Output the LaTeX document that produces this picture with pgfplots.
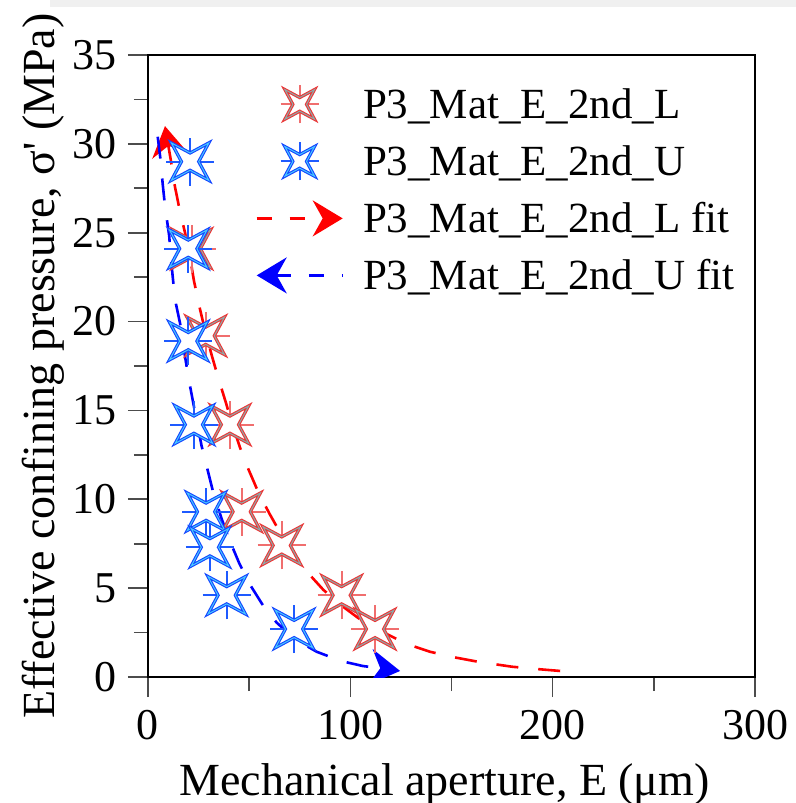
\documentclass[border=0pt]{standalone}
\usepackage{pgfplots}
\pgfplotsset{compat=1.18}
\usepackage{fontspec}
\setmainfont{Liberation Serif}
\usetikzlibrary{arrows.meta}
\definecolor{Lout}{RGB}{235,55,55}
\definecolor{Lin}{RGB}{140,170,170}
\definecolor{Lplus}{RGB}{240,110,110}
\definecolor{Uout}{RGB}{20,70,255}
\definecolor{Uin}{RGB}{70,200,255}
\definecolor{Uplus}{RGB}{30,90,255}
\def\starpath{%
  \pgfpathmoveto{\pgfpoint{0.78\pgfplotmarksize}{0.78\pgfplotmarksize}}%
  \pgfpathlineto{\pgfpoint{0pt}{0.36\pgfplotmarksize}}%
  \pgfpathlineto{\pgfpoint{-0.78\pgfplotmarksize}{0.78\pgfplotmarksize}}%
  \pgfpathlineto{\pgfpoint{-0.36\pgfplotmarksize}{0pt}}%
  \pgfpathlineto{\pgfpoint{-0.78\pgfplotmarksize}{-0.78\pgfplotmarksize}}%
  \pgfpathlineto{\pgfpoint{0pt}{-0.36\pgfplotmarksize}}%
  \pgfpathlineto{\pgfpoint{0.78\pgfplotmarksize}{-0.78\pgfplotmarksize}}%
  \pgfpathlineto{\pgfpoint{0.36\pgfplotmarksize}{0pt}}%
  \pgfpathclose}
\def\starmark#1#2#3{%
  \pgfsetdash{}{0pt}%
  \pgfsetlinewidth{1pt}%
  \pgfsetstrokecolor{#1}%
  \pgfpathmoveto{\pgfpoint{-\pgfplotmarksize}{0pt}}%
  \pgfpathlineto{\pgfpoint{\pgfplotmarksize}{0pt}}%
  \pgfpathmoveto{\pgfpoint{0pt}{-\pgfplotmarksize}}%
  \pgfpathlineto{\pgfpoint{0pt}{\pgfplotmarksize}}%
  \pgfusepath{stroke}%
  \starpath
  \pgfsetfillcolor{white}\pgfsetstrokecolor{#2}\pgfsetlinewidth{1.6pt}%
  \pgfusepath{fill,stroke}%
  \starpath
  \pgfsetstrokecolor{#3}\pgfsetlinewidth{0.5pt}%
  \pgfusepath{stroke}}
\pgfdeclareplotmark{starL}{\starmark{Lplus}{Lout}{Lin}}
\pgfdeclareplotmark{starU}{\starmark{Uplus}{Uout}{Uin}}
\tikzset{myarrow/.style={-{Stealth[length=15pt,width=18pt,inset=5pt]}}}
\begin{document}
\begin{tikzpicture}
\useasboundingbox (-74pt,-63pt) rectangle (324pt,338.5pt);
\fill[black!6] (-49pt,335pt) rectangle (324pt,338.5pt);
\begin{axis}[
  scale only axis, width=303.5pt, height=311pt,
  at={(0pt,0pt)}, anchor=south west,
  xmin=0, xmax=300, ymin=0, ymax=35,
  xtick={0,100,200,300}, xticklabels={0,100,200,300}, minor x tick num=1,
  ytick={0,5,10,15,20,25,30,35}, yticklabels={0,5,10,15,20,25,30,35}, minor y tick num=1,
  tick pos=left, tick align=outside,
  major tick length=10pt, minor tick length=7pt,
  every tick/.style={black!70, line width=0.8pt},
  axis line style={black, line width=0.8pt},
  ticklabel style={font=\fontsize{22pt}{26pt}\selectfont},
  xticklabel style={yshift=-3pt},
  yticklabel style={xshift=-2pt},
  xlabel={Mechanical aperture, E (μm)},
  ylabel={Effective confining pressure, σ\textquotesingle{} (MPa)},
  label style={font=\fontsize{23pt}{27pt}\selectfont},
  xlabel style={at={(rel axis cs:0.5,0)}, anchor=base, yshift=-59pt, xshift=-3.5pt, inner sep=0pt},
  ylabel style={at={(rel axis cs:0,0.5)}, anchor=north, yshift=63pt, inner sep=0pt},
  legend cell align=left,
  legend style={draw=none, fill=none, at={(rel axis cs:0,1)}, anchor=north west,
    xshift=53.5pt, yshift=-11.5pt, inner sep=0pt, column sep=9.5pt, row sep=2.5pt,
    font=\fontsize{21.5pt}{26pt}\selectfont,
    nodes={inner sep=0pt, text height=20pt, text depth=6pt}},
]
\addplot[only marks, mark=starL, mark size=12pt,
  legend image code/.code={\pgftransformshift{\pgfpoint{21.5pt}{0pt}}\pgfplotmarksize=9.5pt\relax\pgfuseplotmark{starL}}]
coordinates {(21.6,24.1) (28.5,19.2) (40.5,14.2) (46.3,9.3) (66.1,7.4) (95.7,4.6) (112.2,2.7)};
\addlegendentry{P3\_Mat\_E\_2nd\_L}
\addplot[only marks, mark=starU, mark size=12pt,
  legend image code/.code={\pgftransformshift{\pgfpoint{21.5pt}{0pt}}\pgfplotmarksize=9.5pt\relax\pgfuseplotmark{starU}}]
coordinates {(20.8,29.0) (19.9,24.1) (19.9,18.9) (22.7,14.2) (28.7,9.3) (30.6,7.3) (38.9,4.6) (72.2,2.7)};
\addlegendentry{P3\_Mat\_E\_2nd\_U}
\addplot[red, no markers, line width=1.3pt, dash pattern=on 11pt off 10pt, myarrow,
  legend image code/.code={\draw[red, line width=1.3pt, dash pattern=on 7.5pt off 9pt, myarrow] (0pt,0pt) -- (43pt,0pt);}]
coordinates {(203.7,0.34) (192,0.45) (179.8,0.58) (163,0.86) (150.8,1.12) (139.4,1.42) (127.8,1.86) (118,2.42) (106.4,3.11) (97.4,3.87) (86.7,4.9) (80,5.74) (72.6,6.87) (66.9,7.8) (60,9.2) (54.9,10.3) (49.6,11.7) (45.5,12.9) (41.4,14.3) (38.6,15.4) (34.8,16.8) (31.5,18.1) (28.2,19.5) (25.7,20.7) (22.7,22.3) (20.8,23.6) (18.3,25.0) (15.8,26.2) (13.3,27.6) (11.7,28.8) (8.4,31.0)};
\addlegendentry{P3\_Mat\_E\_2nd\_L fit}
\addplot[blue, no markers, line width=1.3pt, dash pattern=on 11pt off 10pt, myarrow,
  legend image code/.code={\draw[blue, line width=1.3pt, dash pattern=on 7.5pt off 9pt, {Stealth[length=15pt,width=18pt,inset=5pt]}-] (0pt,0pt) -- (43pt,0pt);}]
coordinates {(4.8,30.4) (6.2,29.1) (7.3,27.7) (8.4,26.5) (10.5,24.8) (11.2,23.7) (12.5,22.2) (13.8,21.0) (16.6,19.5) (17.8,18.4) (19.9,16.9) (21.9,15.7) (24.4,14.2) (26.5,13.0) (29.8,11.5) (32.2,10.4) (36.4,8.9) (40.1,7.75) (45.1,6.4) (50,5.27) (57,4.0) (63.6,3.06) (72.7,2.12) (83.4,1.42) (95.4,0.9) (106.1,0.62) (124.6,0.34)};
\addlegendentry{P3\_Mat\_E\_2nd\_U fit}
\end{axis}
\end{tikzpicture}
\end{document}
